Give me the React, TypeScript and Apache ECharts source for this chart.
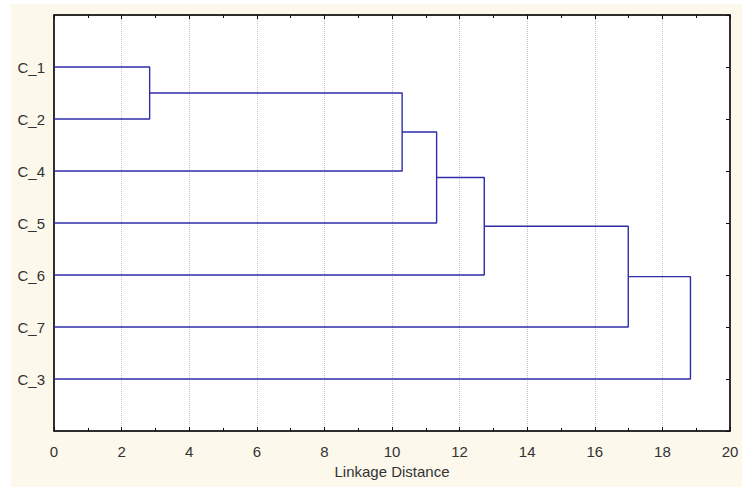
import React, { useEffect, useRef } from "react";
import * as echarts from "echarts";

// Leaves in dendrogram order (top to bottom)
const leaves = ["C_1", "C_2", "C_4", "C_5", "C_6", "C_7", "C_3"];

// Linkage: node ids 0..6 are leaves, each merge creates node 7, 8, ...
const mergeLeft = [0, 7, 8, 9, 10, 11];
const mergeRight = [1, 2, 3, 4, 5, 6];
const mergeDistance = [2.83, 10.3, 11.32, 12.73, 16.99, 18.83];

const xTicks = [0, 2, 4, 6, 8, 10, 12, 14, 16, 18, 20];

const LINE_COLOR = "#2e2ea8";
const FONT = "'Liberation Sans', Arial, sans-serif";

function buildSegments() {
  const nx: number[] = leaves.map(() => 0);
  const ny: number[] = leaves.map((_, i) => i + 1);
  const segs: number[][][] = [];
  mergeDistance.forEach((d, k) => {
    const a = mergeLeft[k];
    const b = mergeRight[k];
    segs.push([
      [nx[a], ny[a]],
      [d, ny[a]],
      [d, ny[b]],
      [nx[b], ny[b]],
    ]);
    nx.push(d);
    ny.push((ny[a] + ny[b]) / 2);
  });
  return segs;
}

export default function App() {
  const ref = useRef<HTMLDivElement>(null);

  useEffect(() => {
    if (!ref.current) return;
    const chart = echarts.init(ref.current, undefined, { renderer: "svg" });
    const segs = buildSegments();

    const axisLine = { show: true, onZero: false, lineStyle: { color: "#111", width: 1.5 } };

    const xBase = {
      type: "value" as const,
      min: xTicks[0],
      max: xTicks[xTicks.length - 1],
      interval: 2,
      axisLine,
      axisTick: { show: true, inside: true, length: 4, lineStyle: { color: "#111" } },
      minorTick: { show: true, splitNumber: 2, length: 3, lineStyle: { color: "#111" } },
    };

    const yBase = {
      type: "value" as const,
      min: 0,
      max: leaves.length + 1,
      interval: 1,
      inverse: true,
      axisLine,
      splitLine: { show: false },
    };

    chart.setOption({
      animation: false,
      backgroundColor: "#ffffff",
      graphic: [
        {
          type: "rect",
          z: -10,
          silent: true,
          shape: { x: 11, y: 4, width: 742 - 11, height: 487 - 4 },
          style: { fill: "#fcf8ec" },
        },
      ],
      grid: {
        left: 54,
        top: 15,
        right: 12,
        bottom: 56,
        show: true,
        backgroundColor: "#ffffff",
        borderColor: "#111",
        borderWidth: 1,
        z: 0,
      },
      xAxis: [
        {
          ...xBase,
          position: "bottom",
          name: "Linkage Distance",
          nameLocation: "middle",
          nameGap: 31,
          nameTextStyle: { color: "#333", fontFamily: FONT, fontSize: 15 },
          axisLabel: { color: "#333", fontFamily: FONT, fontSize: 15, margin: 13 },
          splitLine: {
            show: true,
            lineStyle: { color: "#c4c4c4", type: "dotted", width: 1 },
          },
        },
        {
          ...xBase,
          position: "top",
          axisLabel: { show: false },
          splitLine: { show: false },
        },
      ],
      yAxis: [
        {
          ...yBase,
          position: "left",
          axisTick: { show: false },
          axisLabel: {
            color: "#333",
            fontFamily: FONT,
            fontSize: 15,
            margin: 9,
            formatter: (v: number) => (v >= 1 && v <= leaves.length ? leaves[v - 1] : ""),
          },
        },
        {
          ...yBase,
          position: "right",
          axisTick: { show: true, inside: true, length: 4, lineStyle: { color: "#111" } },
          axisLabel: { show: false },
        },
      ],
      series: segs.map((s) => ({
        type: "line",
        xAxisIndex: 0,
        yAxisIndex: 0,
        data: s,
        symbol: "none",
        silent: true,
        lineStyle: { color: LINE_COLOR, width: 1.4 },
        z: 3,
      })),
    });

    return () => chart.dispose();
  }, []);

  return (
    <div
      ref={ref}
      style={{ position: "absolute", left: 0, top: 0, width: 742, height: 487 }}
    />
  );
}
